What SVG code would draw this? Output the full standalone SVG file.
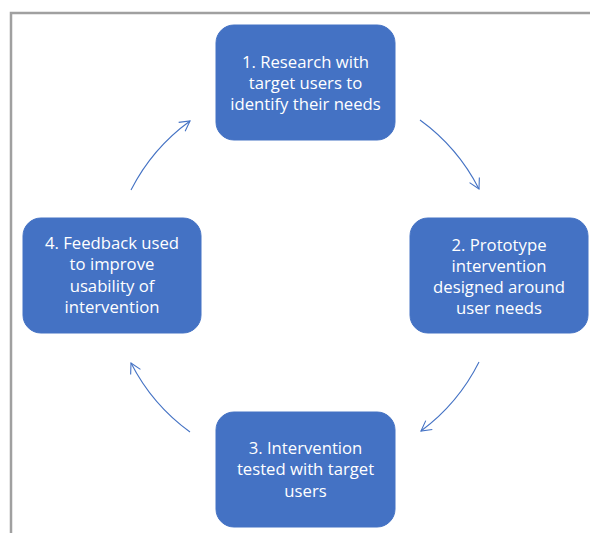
<svg xmlns="http://www.w3.org/2000/svg" width="590" height="533" viewBox="0 0 590 533">
  <style>
    .box { fill: #4472C4; stroke: #4472C4; stroke-width: 1; }
    .lbl { fill: #FFFFFF; font-family: "Open Sans", "Liberation Sans", sans-serif; font-size: 16.7px; text-anchor: middle; }
    .conn { fill: none; stroke: #4472C4; stroke-width: 1.1; }
    .frame { fill: none; stroke: #A0A0A0; stroke-width: 2.5; }
  </style>
  <defs>
    <marker id="arr" markerUnits="userSpaceOnUse" markerWidth="14" markerHeight="14" viewBox="0 0 14 14" refX="12" refY="7" orient="auto">
      <path d="M2,1.5 L12,7 L2,12.5" fill="none" stroke="#4472C4" stroke-width="1.1"/>
    </marker>
  </defs>
  <rect width="590" height="533" fill="#FFFFFF"/>
  <path class="frame" d="M11,533 L11,13 L590,13"/>

  <g id="connectors">
    <path class="conn" d="M420,120 A194,194 0 0 1 479,189" marker-end="url(#arr)"/>
    <path class="conn" d="M479,362 A194,194 0 0 1 421,431" marker-end="url(#arr)"/>
    <path class="conn" d="M190,432 A194,194 0 0 1 131,363" marker-end="url(#arr)"/>
    <path class="conn" d="M131,190 A194,194 0 0 1 190,121" marker-end="url(#arr)"/>
  </g>

  <g id="node1">
    <rect class="box" x="216" y="25" width="179" height="115" rx="18"/>
    <text class="lbl" x="305.5" y="68">1. Research with</text>
    <text class="lbl" x="305.5" y="89">target users to</text>
    <text class="lbl" x="305.5" y="110">identify their needs</text>
  </g>
  <g id="node2">
    <rect class="box" x="410" y="218" width="178" height="115" rx="18"/>
    <text class="lbl" x="499" y="251">2. Prototype</text>
    <text class="lbl" x="499" y="272">intervention</text>
    <text class="lbl" x="499" y="293">designed around</text>
    <text class="lbl" x="499" y="314">user needs</text>
  </g>
  <g id="node3">
    <rect class="box" x="216" y="412" width="179" height="115" rx="18"/>
    <text class="lbl" x="305.5" y="454">3. Intervention</text>
    <text class="lbl" x="305.5" y="475">tested with target</text>
    <text class="lbl" x="305.5" y="497">users</text>
  </g>
  <g id="node4">
    <rect class="box" x="23" y="218" width="178" height="115" rx="18"/>
    <text class="lbl" x="112" y="249">4. Feedback used</text>
    <text class="lbl" x="112" y="270">to improve</text>
    <text class="lbl" x="112" y="292">usability of</text>
    <text class="lbl" x="112" y="313">intervention</text>
  </g>
</svg>
